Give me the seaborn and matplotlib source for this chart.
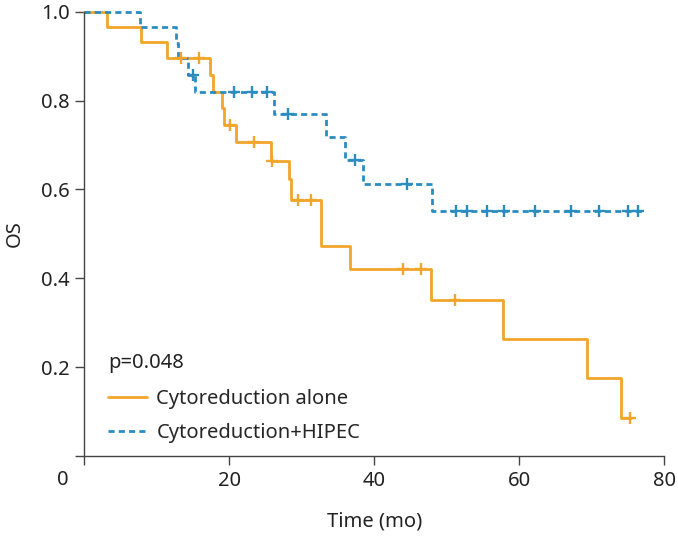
import numpy as np
import matplotlib
matplotlib.use("Agg")
import matplotlib.pyplot as plt
import seaborn as sns

# Kaplan-Meier steps (time in months, survival)
alone_times = [0, 3.1, 7.8, 11.45, 17.3, 17.8, 18.95, 19.3, 20.9, 25.8, 28.2, 28.5,
               32.6, 36.7, 47.8, 57.8, 69.4, 74.0, 75.4]
alone_surv = [1.0, 0.966, 0.931, 0.896, 0.857, 0.820, 0.783, 0.745, 0.707, 0.664, 0.624,
              0.577, 0.473, 0.420, 0.351, 0.263, 0.176, 0.086, 0.086]
alone_censor = [13.3, 15.8, 20.1, 23.4, 25.9, 29.5, 31.3, 43.9, 46.4, 51.1, 75.2]

hipec_times = [0, 7.7, 12.6, 12.9, 14.3, 15.3, 26.2, 33.4, 35.9, 38.5, 48.0, 77.1]
hipec_surv = [1.0, 0.966, 0.930, 0.896, 0.858, 0.819, 0.770, 0.719, 0.667, 0.613,
              0.551, 0.551]
hipec_censor = [15.0, 20.6, 23.1, 25.2, 28.1, 37.3, 44.5, 51.3, 52.8, 55.6, 57.9,
                62.2, 67.1, 71.0, 75.0, 76.4]

x_ticks = [0, 20, 40, 60, 80]
y_ticks = [0, 0.2, 0.4, 0.6, 0.8, 1.0]
p_text = "p=0.048"

ORANGE = "#F2A52B"
BLUE = "#2B8CC0"
FS = 14.5


def step_value(times, surv, t):
    idx = np.searchsorted(times, t, side="right") - 1
    return np.asarray(surv)[idx]


sns.set_style("ticks")
plt.rcParams["font.family"] = ["Noto Sans", "DejaVu Sans"]

fig = plt.figure(figsize=(6.78, 5.36), dpi=100)
ax = fig.add_axes([0.1243, 0.1493, 0.8555, 0.8287])

sns.lineplot(x=alone_times, y=alone_surv, drawstyle="steps-post", color=ORANGE,
             linewidth=2.0, estimator=None, sort=False, ax=ax,
             label="Cytoreduction alone", clip_on=False)
sns.lineplot(x=hipec_times, y=hipec_surv, drawstyle="steps-post", color=BLUE,
             linewidth=2.0, linestyle=(0, (2.2, 1.5)), estimator=None, sort=False,
             ax=ax, label="Cytoreduction+HIPEC", clip_on=False)

sns.scatterplot(x=alone_censor, y=step_value(alone_times, alone_surv, alone_censor),
                marker="+", s=75, linewidth=1.7, color=ORANGE, ax=ax, zorder=3)
sns.scatterplot(x=hipec_censor, y=step_value(hipec_times, hipec_surv, hipec_censor),
                marker="+", s=75, linewidth=1.7, color=BLUE, ax=ax, zorder=3)

ax.set_xlim(0, 80)
ax.set_ylim(0, 1.0)
ax.set_xticks(x_ticks)
ax.set_xticklabels([""] + [str(v) for v in x_ticks[1:]])
ax.set_yticks(y_ticks)
ax.set_yticklabels([""] + [f"{v:.1f}" for v in y_ticks[1:]])
ax.annotate("0", xy=(0, 0), xytext=(-15.5, -17), textcoords="offset points",
            ha="center", va="center", fontsize=FS, color="#222222")

ax.tick_params(direction="out", length=6.5, width=1.0, colors="#444444",
               labelcolor="#222222", labelsize=FS, pad=4)
for side in ["left", "bottom"]:
    ax.spines[side].set_color("#444444")
    ax.spines[side].set_linewidth(1.0)
sns.despine(ax=ax)

ax.set_xlabel("Time (mo)", fontsize=FS, color="#222222", labelpad=15)
ax.set_ylabel("OS", fontsize=FS, color="#222222", labelpad=12)

ax.legend(loc="lower left", bbox_to_anchor=(0.027, 0.01), frameon=False,
          fontsize=FS, handlelength=1.95, handletextpad=0.45, labelspacing=0.72,
          borderaxespad=0)
ax.text(0.041, 0.21, p_text, transform=ax.transAxes, fontsize=FS,
        color="#222222", va="center", ha="left")

fig.savefig("out.png", dpi=100)
